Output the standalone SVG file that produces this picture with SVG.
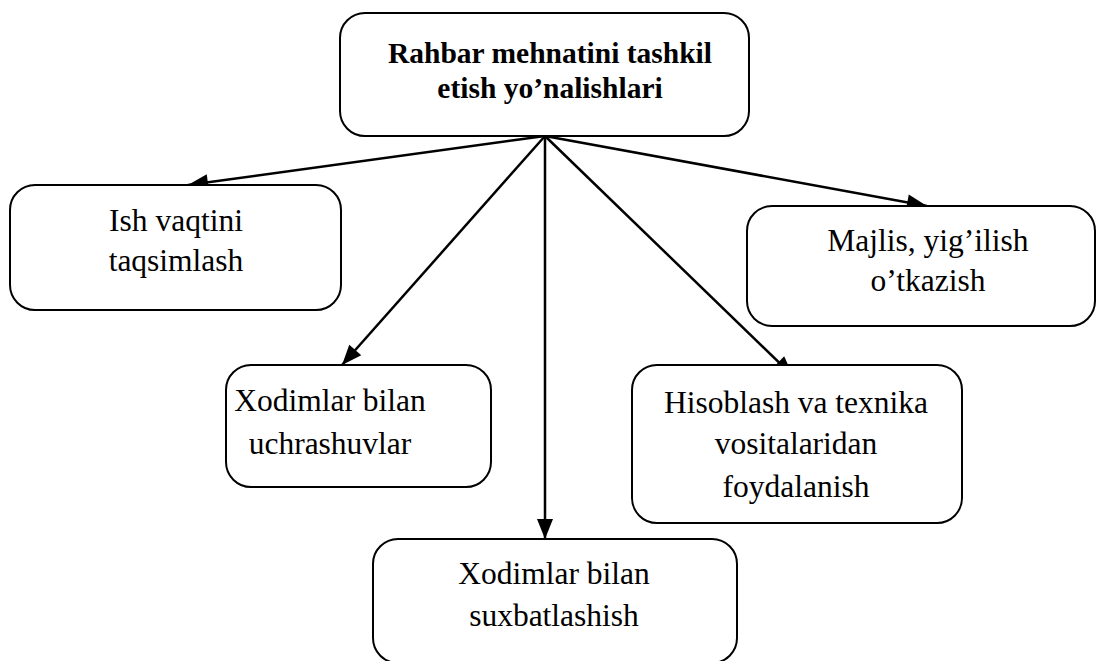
<svg xmlns="http://www.w3.org/2000/svg" width="1097" height="661" viewBox="0 0 1097 661">
  <style>
    .box { fill: #ffffff; stroke: #000000; stroke-width: 2; }
    .lbl { font-size: 31.5px; fill: #000000; text-anchor: middle; }
    .title { font-weight: bold; font-size: 29.5px; }
    .edge { stroke: #000000; stroke-width: 2.5; fill: none; marker-end: url(#arrow); }
  </style>
  <defs>
    <!-- filled triangular arrowhead, sized in user units -->
    <marker id="arrow" markerUnits="userSpaceOnUse" markerWidth="22" markerHeight="18" refX="20" refY="8" orient="auto" overflow="visible">
      <path d="M0,0 L20,8 L0,16 Z" fill="#000000"/>
    </marker>
  </defs>
  <rect width="1097" height="661" fill="#ffffff"/>

  <g id="connectors">
    <line class="edge" x1="545" y1="136" x2="188" y2="185"/>
    <line class="edge" x1="545" y1="136" x2="927" y2="206"/>
    <line class="edge" x1="545" y1="136" x2="342" y2="365"/>
    <line class="edge" x1="545" y1="136" x2="545" y2="539"/>
    <line class="edge" x1="545" y1="136" x2="793" y2="376"/>
  </g>

  <g font-family="Liberation Serif, Times New Roman, serif">
    <g id="root">
      <rect class="box" x="340" y="13" width="409" height="123" rx="25"/>
      <text class="lbl title" x="550" y="63">Rahbar mehnatini tashkil</text>
      <text class="lbl title" x="550" y="98">etish yo’nalishlari</text>
    </g>

    <g id="ish-vaqtini">
      <rect class="box" x="10" y="185" width="331" height="125" rx="25"/>
      <text class="lbl" x="176" y="231">Ish vaqtini</text>
      <text class="lbl" x="176" y="271">taqsimlash</text>
    </g>

    <g id="majlis">
      <rect class="box" x="747" y="206" width="348" height="120" rx="25"/>
      <text class="lbl" x="928" y="251">Majlis, yig’ilish</text>
      <text class="lbl" x="928" y="291">o’tkazish</text>
    </g>

    <g id="uchrashuvlar">
      <rect class="box" x="226" y="365" width="265" height="122" rx="25"/>
      <text class="lbl" x="330" y="411">Xodimlar bilan</text>
      <text class="lbl" x="330" y="454">uchrashuvlar</text>
    </g>

    <g id="hisoblash">
      <rect class="box" x="632" y="365" width="330" height="158" rx="25"/>
      <text class="lbl" x="796" y="413">Hisoblash va texnika</text>
      <text class="lbl" x="796" y="454">vositalaridan</text>
      <text class="lbl" x="796" y="497">foydalanish</text>
    </g>

    <g id="suxbatlashish">
      <rect class="box" x="373" y="539" width="364" height="124" rx="25"/>
      <text class="lbl" x="554" y="584">Xodimlar bilan</text>
      <text class="lbl" x="554" y="626">suxbatlashish</text>
    </g>
  </g>
</svg>
